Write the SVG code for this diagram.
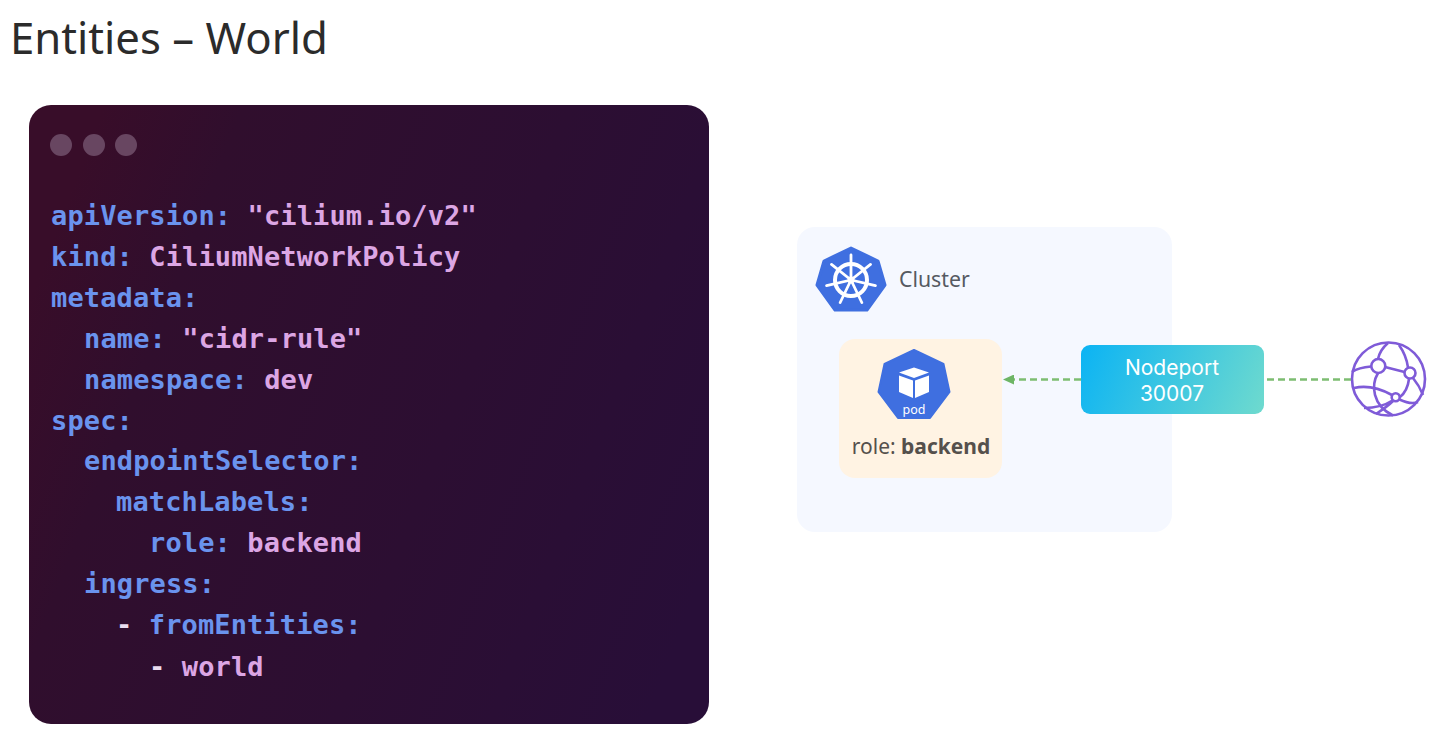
<svg xmlns="http://www.w3.org/2000/svg" width="1445" height="730" viewBox="0 0 1445 730">
<style>
.code{font-family:"DejaVu Sans Mono","Liberation Mono",monospace;font-size:27px;font-weight:700;letter-spacing:.12px}
.k{fill:#6a93ee}.v{fill:#dca6e4}.d{fill:#eadcf0}
.ui{font-family:"Noto Sans","Open Sans",sans-serif}
.dash{stroke:#7dbd72;stroke-width:2.500;stroke-dasharray:7 4;fill:none}
.gl{fill:none;stroke:#7f5bd8;stroke-width:2.600}
.wh{stroke:#fff;fill:none;stroke-linecap:round}
</style>
<defs>
<linearGradient id="bg" gradientUnits="userSpaceOnUse" x1="29" y1="300" x2="709" y2="560"><stop offset="0" stop-color="#380d29"/><stop offset=".18" stop-color="#300e2d"/><stop offset=".6" stop-color="#2c0e32"/><stop offset="1" stop-color="#280e38"/></linearGradient>
<linearGradient id="np" gradientUnits="userSpaceOnUse" x1="1085" y1="345" x2="1255" y2="420"><stop offset="0" stop-color="#0db4f3"/><stop offset="1" stop-color="#6cd9cf"/></linearGradient>
<marker id="ah" markerWidth="11" markerHeight="10" refX="8" refY="5" orient="auto" markerUnits="userSpaceOnUse"><path d="M0 0L11 5L0 10Z" fill="#6db565"/></marker>
</defs>
<rect width="1445" height="730" fill="#fff"/>
<text class="ui" x="10" y="54" font-size="43.700" fill="#2b2b2b">Entities – World</text>
<g id="code-window">
<rect x="29" y="105" width="680" height="619" rx="22" fill="url(#bg)"/>
<circle cx="61" cy="145" r="11" fill="#684661"/><circle cx="94" cy="145" r="11" fill="#684661"/><circle cx="126" cy="145" r="11" fill="#684661"/>
<g class="code">
<text x="51" y="225"><tspan class="k">apiVersion:</tspan> <tspan class="v">"cilium.io/v2"</tspan></text>
<text x="51" y="266"><tspan class="k">kind:</tspan> <tspan class="v">CiliumNetworkPolicy</tspan></text>
<text x="51" y="307" class="k">metadata:</text>
<text x="84" y="348"><tspan class="k">name:</tspan> <tspan class="v">"cidr-rule"</tspan></text>
<text x="84" y="389"><tspan class="k">namespace:</tspan> <tspan class="v">dev</tspan></text>
<text x="51" y="430" class="k">spec:</text>
<text x="84" y="470" class="k">endpointSelector:</text>
<text x="116" y="511" class="k">matchLabels:</text>
<text x="149" y="552"><tspan class="k">role:</tspan> <tspan class="v">backend</tspan></text>
<text x="84" y="593" class="k">ingress:</text>
<text x="116" y="634"><tspan class="d">-</tspan> <tspan class="k">fromEntities:</tspan></text>
<text x="149" y="676"><tspan class="d">-</tspan> <tspan class="v">world</tspan></text>
</g>
</g>
<g id="cluster">
<rect x="797" y="227" width="375" height="305" rx="18" fill="#f5f8ff"/>
<path d="M851 248L878 261L885 285L867 310L835 310L817 285L824 261Z" fill="#3f6fe0" stroke="#3f6fe0" stroke-width="3" stroke-linejoin="round"/>
<circle cx="851" cy="280" r="16" class="wh" stroke-width="4"/>
<circle cx="851" cy="280" r="3.500" fill="#fff"/>
<path class="wh" stroke-width="2.800" d="M851 280V255M851 280L870.500 264.400M851 280L875.400 285.600M851 280L861.800 302.500M851 280L840.200 302.500M851 280L826.600 285.600M851 280L831.500 264.400"/>
<text class="ui" x="899" y="287" font-size="21.300" fill="#555a62">Cluster</text>
</g>
<g id="pod">
<rect x="839" y="339" width="163" height="139" rx="16" fill="#fff3e3"/>
<path d="M914 350L943.500 364L949.500 392L930 418L898 418L878.500 392L884.500 364Z" fill="#3f6fe0" stroke="#3f6fe0" stroke-width="2" stroke-linejoin="round"/>
<path d="M899 372.500L914 367.500L929 372.500L914 378Z" fill="#fff"/>
<path d="M899 375.500L913 380.500V398L899 392Z" fill="#fff"/>
<path d="M915 380.500L929 375.500V392L915 398Z" fill="#fff"/>
<text class="ui" x="914" y="414" font-size="12.500" fill="#fff" text-anchor="middle">pod</text>
<text class="ui" x="921" y="454" font-size="21" fill="#55504c" text-anchor="middle">role: <tspan font-weight="700">backend</tspan></text>
</g>
<g id="nodeport">
<rect x="1081" y="345" width="183" height="69" rx="9" fill="url(#np)"/>
<text font-family="Inter, sans-serif" font-size="21" fill="#fff" text-anchor="middle" x="1172" y="375">Nodeport</text>
<text font-family="Inter, sans-serif" font-size="21" fill="#fff" text-anchor="middle" x="1172" y="401">30007</text>
</g>
<g id="world">
<circle class="gl" cx="1388.500" cy="379" r="36.500"/>
<path class="gl" d="M1388 343C1381 349 1379 354 1378 359M1378 373C1371 385 1372 405 1393 415.500M1399 345C1404 352 1407 360 1408 367.500M1409 379C1408 387 1405 393 1400 397M1352 372C1358 368 1365 367 1371 366.500M1385 367L1404.500 372M1413 378C1418 384 1421 390 1423 395M1354 388C1367 385 1381 389 1392 395M1399.500 399.500C1407 403 1413 404 1418 402M1364 408C1372 408 1384 406 1392.500 400.500M1393 401C1388 406 1382 410 1376 414"/>
<circle class="gl" cx="1378.300" cy="366" r="7"/>
<circle class="gl" cx="1410" cy="373" r="5.500"/>
<circle class="gl" cx="1395.700" cy="397.300" r="4"/>
</g>
<g id="connectors">
<path class="dash" d="M1081 379.500H1006" marker-end="url(#ah)"/>
<path class="dash" d="M1267 379.500H1351"/>
</g>
</svg>
